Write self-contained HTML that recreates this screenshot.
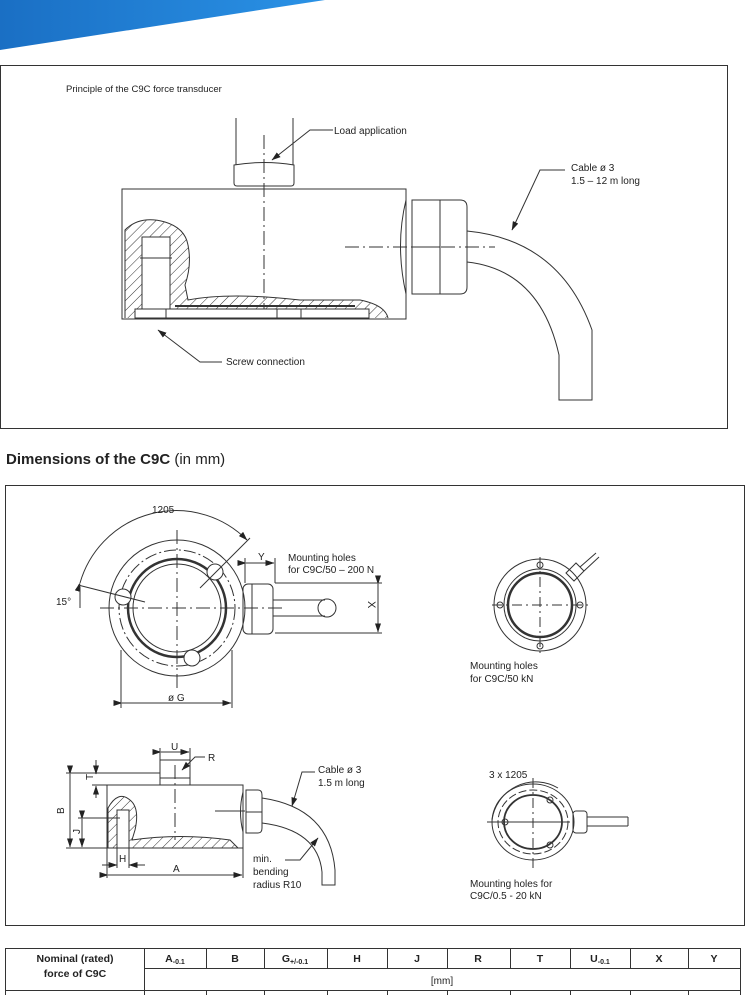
<!DOCTYPE html>
<html><head><meta charset="utf-8"><style>
body{margin:0;background:#fff;width:750px;height:995px;overflow:hidden;font-family:"Liberation Sans",Arial,sans-serif}
svg{position:absolute;left:0;top:0}
text{font-family:"Liberation Sans",Arial,sans-serif;fill:#222}
</style></head><body>
<svg width="750" height="995" viewBox="0 0 750 995">
<defs>
<linearGradient id="bl" x1="0" y1="0" x2="1" y2="0"><stop offset="0" stop-color="#1a6fc4"/><stop offset="1" stop-color="#2a92e6"/></linearGradient>
<pattern id="h" width="7" height="7" patternUnits="userSpaceOnUse" patternTransform="rotate(45)"><line x1="0" y1="0" x2="0" y2="7" stroke="#333" stroke-width="1"/></pattern>
<marker id="a" markerWidth="9" markerHeight="6" refX="8.5" refY="3" orient="auto" markerUnits="userSpaceOnUse"><path d="M0,0 L9,3 L0,6z" fill="#222"/></marker>
</defs>
<polygon points="0,0 325,0 0,50" fill="url(#bl)"/>
<g fill="none" stroke="#333" stroke-width="1">
<rect x="0.5" y="65.5" width="727" height="363"/>
<rect x="5.5" y="485.5" width="739" height="440"/>
</g>
<text x="66" y="92" font-size="9.5">Principle of the C9C force transducer</text>
<g fill="none" stroke="#333" stroke-width="1">
<line x1="236" y1="118" x2="236" y2="165"/><line x1="293" y1="118" x2="293" y2="165"/>
<path d="M234,165 Q264,160 294,165 L294,183 Q294,186 291,186 L237,186 Q234,186 234,183z"/>
<rect x="122" y="189" width="284" height="130"/>
<line x1="264" y1="135" x2="264" y2="320" stroke-dasharray="14,4,2,4"/>
<path d="M125,318 L125,230 Q140,215 165,222 Q185,228 188,245 Q192,265 185,285 L188,300 Q230,292 300,300 L360,300 Q385,305 388,318" fill="url(#h)"/>
<rect x="142" y="237" width="28" height="72" fill="#fff"/>
<line x1="140" y1="258" x2="172" y2="258"/>
<rect x="135" y="309" width="234" height="9" fill="#fff"/>
<line x1="166" y1="309" x2="166" y2="318"/><line x1="277" y1="309" x2="277" y2="318"/><line x1="301" y1="309" x2="301" y2="318"/>
<line x1="175" y1="306" x2="355" y2="306" stroke-width="2"/>
<path d="M406,200 Q395,245 406,294"/>
<path d="M412,200 L460,200 Q467,200 467,207 L467,287 Q467,294 460,294 L412,294z"/>
<line x1="440" y1="200" x2="440" y2="294"/><line x1="412" y1="247" x2="440" y2="247"/>
<line x1="345" y1="247" x2="495" y2="247" stroke-dasharray="14,4,2,4"/>
<path d="M467,231 Q560,240 592,330 L592,400 L559,400 L559,355 Q540,270 467,262"/>
<path d="M333,130 L310,130 L272,160" marker-end="url(#a)"/>
<path d="M565,170 L540,170 L512,230" marker-end="url(#a)"/>
<path d="M222,362 L200,362 L158,330" marker-end="url(#a)"/>
</g>
<text x="334" y="134" font-size="10">Load application</text>
<text x="571" y="171" font-size="10">Cable ø 3</text>
<text x="571" y="184" font-size="10">1.5 – 12 m long</text>
<text x="226" y="365" font-size="10">Screw connection</text>
<text x="6" y="464" font-size="15" font-weight="bold">Dimensions of the C9C <tspan font-weight="normal">(in mm)</tspan></text>
<g fill="none" stroke="#333" stroke-width="1">
<circle cx="177" cy="608" r="68"/>
<circle cx="177" cy="608" r="58" stroke-dasharray="12,3,2,3"/>
<circle cx="177" cy="608" r="49" stroke-width="2.5"/>
<circle cx="177" cy="608" r="44"/>
<line x1="100" y1="608" x2="285" y2="608" stroke-dasharray="14,4,2,4"/>
<line x1="177" y1="530" x2="177" y2="690" stroke-dasharray="14,4,2,4"/>
<circle cx="123" cy="597" r="8" fill="#fff"/><circle cx="215" cy="572" r="8" fill="#fff"/><circle cx="192" cy="658" r="8" fill="#fff"/>
<path d="M80,583 A100,100 0 0 1 247,540" marker-start="url(#a)" marker-end="url(#a)"/>
<line x1="78" y1="585" x2="145" y2="602"/><line x1="250" y1="538" x2="200" y2="588"/>
<line x1="80" y1="587" x2="80" y2="608"/>
<rect x="243" y="584" width="30" height="50" rx="5"/>
<line x1="252" y1="584" x2="252" y2="634"/>
<line x1="273" y1="600" x2="325" y2="600"/><line x1="273" y1="616" x2="325" y2="616"/>
<circle cx="327" cy="608" r="9"/>
<line x1="275" y1="583" x2="382" y2="583"/><line x1="275" y1="633" x2="382" y2="633"/>
<line x1="378" y1="584" x2="378" y2="632" marker-start="url(#a)" marker-end="url(#a)"/>
<line x1="245" y1="558" x2="245" y2="583"/><line x1="275" y1="558" x2="275" y2="583"/>
<line x1="246" y1="563" x2="274" y2="563" marker-start="url(#a)" marker-end="url(#a)"/>
<line x1="121" y1="650" x2="121" y2="708"/><line x1="232" y1="650" x2="232" y2="708"/>
<line x1="122" y1="703" x2="231" y2="703" marker-start="url(#a)" marker-end="url(#a)"/>
<rect x="107" y="785" width="136" height="63"/>
<path d="M160,785 L160,760 L190,760 L190,785 M160,778 L190,778"/>
<line x1="175" y1="765" x2="175" y2="840" stroke-dasharray="14,4,2,4"/>
<path d="M108,848 L108,808 Q118,790 130,800 Q140,808 135,830 L132,840 Q180,833 230,840 L238,848" fill="url(#h)"/>
<rect x="117" y="810" width="12" height="38" fill="#fff"/>
<path d="M243,792 Q238,812 243,832 M246,790 L258,790 Q262,790 262,795 L262,828 Q262,833 258,833 L246,833z M246,812 L262,812"/>
<line x1="215" y1="811" x2="245" y2="811"/>
<path d="M262,798 Q330,808 335,870 L335,885 L322,885 L322,872 Q318,830 262,823"/>
<line x1="66" y1="773" x2="160" y2="773"/><line x1="66" y1="848" x2="107" y2="848"/>
<line x1="70" y1="774" x2="70" y2="847" marker-start="url(#a)" marker-end="url(#a)"/>
<line x1="78" y1="818" x2="120" y2="818"/>
<line x1="82" y1="819" x2="82" y2="847" marker-start="url(#a)" marker-end="url(#a)"/>
<line x1="96" y1="760" x2="96" y2="774" marker-end="url(#a)"/><line x1="96" y1="798" x2="96" y2="786" marker-end="url(#a)"/>
<line x1="92" y1="785" x2="107" y2="785"/>
<line x1="161" y1="752" x2="189" y2="752" marker-start="url(#a)" marker-end="url(#a)"/>
<line x1="160" y1="748" x2="160" y2="760"/><line x1="190" y1="748" x2="190" y2="760"/>
<path d="M205,757 L195,757 L182,770" marker-end="url(#a)"/>
<line x1="107" y1="848" x2="107" y2="878"/><line x1="243" y1="848" x2="243" y2="878"/>
<line x1="108" y1="875" x2="242" y2="875" marker-start="url(#a)" marker-end="url(#a)"/>
<line x1="117" y1="848" x2="117" y2="868"/><line x1="129" y1="848" x2="129" y2="868"/>
<line x1="102" y1="865" x2="117" y2="865" marker-end="url(#a)"/><line x1="145" y1="865" x2="129" y2="865" marker-end="url(#a)"/>
<path d="M315,772 L302,772 L292,806" marker-end="url(#a)"/>
<path d="M285,860 L300,860 L318,838" marker-end="url(#a)"/>
<circle cx="540" cy="605" r="46"/>
<circle cx="540" cy="605" r="36"/>
<circle cx="540" cy="605" r="32" stroke-width="2.5"/>
<line x1="492" y1="605" x2="588" y2="605" stroke-dasharray="10,4,2,4"/>
<line x1="540" y1="557" x2="540" y2="653" stroke-dasharray="10,4,2,4"/>
<circle cx="500" cy="605" r="3"/><circle cx="580" cy="605" r="3"/><circle cx="540" cy="565" r="3"/><circle cx="540" cy="646" r="3"/>
<path d="M566,573 L576,563 L584,571 L574,581z M580,567 L596,553 M584,571 L599,557"/>
<ellipse cx="533" cy="822" rx="41" ry="38"/>
<ellipse cx="533" cy="822" rx="35" ry="32" stroke-dasharray="8,3"/>
<ellipse cx="533" cy="822" rx="29" ry="27" stroke-width="1.8"/>
<line x1="487" y1="822" x2="570" y2="822"/>
<line x1="533" y1="778" x2="533" y2="868" stroke-dasharray="10,4,2,4"/>
<path d="M492,820 A44,44 0 0 1 558,788"/>
<circle cx="505" cy="822" r="3"/><circle cx="550" cy="800" r="3"/><circle cx="550" cy="845" r="3"/>
<rect x="573" y="811" width="14" height="22" rx="3"/>
<line x1="587" y1="817" x2="628" y2="817"/><line x1="587" y1="826" x2="628" y2="826"/><line x1="628" y1="817" x2="628" y2="826"/>
</g>
<text x="152" y="513" font-size="10">1205</text>
<text x="56" y="605" font-size="10">15°</text>
<text x="288" y="561" font-size="10">Mounting holes</text>
<text x="288" y="573" font-size="10">for C9C/50 – 200 N</text>
<text x="258" y="560" font-size="10">Y</text>
<text x="367" y="608" font-size="11" transform="rotate(90 371 605)">X</text>
<text x="168" y="701" font-size="10">ø G</text>
<text x="470" y="669" font-size="10">Mounting holes</text>
<text x="470" y="682" font-size="10">for C9C/50 kN</text>
<text x="489" y="778" font-size="10">3 x 1205</text>
<text x="470" y="887" font-size="10">Mounting holes for</text>
<text x="470" y="899" font-size="10">C9C/0.5 - 20 kN</text>
<text x="171" y="750" font-size="10">U</text>
<text x="208" y="761" font-size="10">R</text>
<text x="318" y="773" font-size="10">Cable ø 3</text>
<text x="318" y="786" font-size="10">1.5 m long</text>
<text x="56" y="814" font-size="10" transform="rotate(-90 60 810)">B</text>
<text x="72" y="834" font-size="10" transform="rotate(-90 76 830)">J</text>
<text x="85" y="780" font-size="10" transform="rotate(-90 89 776)">T</text>
<text x="119" y="862" font-size="10">H</text>
<text x="173" y="872" font-size="10">A</text>
<text x="253" y="862" font-size="10">min.</text>
<text x="253" y="875" font-size="10">bending</text>
<text x="253" y="888" font-size="10">radius R10</text>
<g fill="none" stroke="#333" stroke-width="1">
<path d="M5,948.5 H740 M5,990.5 H740 M144,968.5 H740"/>
<path d="M5.5,948 V995 M144.5,948 V995 M740.5,948 V995"/>
<path d="M206.5,948 V968 M264.5,948 V968 M327.5,948 V968 M387.5,948 V968 M447.5,948 V968 M510.5,948 V968 M570.5,948 V968 M630.5,948 V968 M688.5,948 V968"/>
<path d="M206.5,990 V995 M264.5,990 V995 M327.5,990 V995 M387.5,990 V995 M447.5,990 V995 M510.5,990 V995 M570.5,990 V995 M630.5,990 V995 M688.5,990 V995"/>
</g>
<g font-size="10.5" font-weight="bold" text-anchor="middle">
<text x="75" y="962">Nominal (rated)</text>
<text x="75" y="977">force of C9C</text>
<text x="175" y="962">A<tspan font-size="7" dy="2">-0.1</tspan></text>
<text x="235" y="962">B</text>
<text x="295" y="962">G<tspan font-size="7" dy="2">+/-0.1</tspan></text>
<text x="357" y="962">H</text>
<text x="417" y="962">J</text>
<text x="478" y="962">R</text>
<text x="540" y="962">T</text>
<text x="600" y="962">U<tspan font-size="7" dy="2">-0.1</tspan></text>
<text x="659" y="962">X</text>
<text x="714" y="962">Y</text>
</g>
<text x="442" y="984" font-size="10" text-anchor="middle">[mm]</text>
</svg>
</body></html>
